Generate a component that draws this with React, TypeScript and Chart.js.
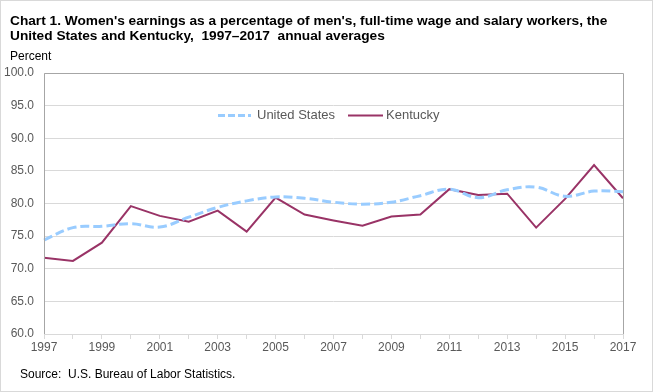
import React, { useEffect, useRef } from "react";
import { Chart, registerables } from "chart.js";

Chart.register(...registerables);

const years = [
  "1997", "1998", "1999", "2000", "2001", "2002", "2003", "2004", "2005", "2006", "2007",
  "2008", "2009", "2010", "2011", "2012", "2013", "2014", "2015", "2016", "2017",
];
const unitedStates = [
  74.4, 76.3, 76.5, 76.9, 76.4, 77.9, 79.4, 80.4, 81.0, 80.8, 80.2,
  79.9, 80.2, 81.2, 82.2, 80.9, 82.1, 82.5, 81.1, 81.9, 81.8,
];
const kentucky = [
  71.7, 71.2, 74.0, 79.6, 78.1, 77.2, 78.9, 75.7, 80.9, 78.3, 77.4,
  76.6, 78.0, 78.3, 82.2, 81.3, 81.5, 76.3, 80.7, 85.9, 80.8,
];
const yMin = 60;
const yMax = 100;
const yStep = 5;

const FONT = "'Liberation Sans', Arial, sans-serif";
const US_COLOR = "#99ccff";
const KY_COLOR = "#993366";
const TEXT = "#595959";

const frameAndLegend = {
  id: "frameAndLegend",
  afterDraw(chart: any) {
    const { ctx, chartArea } = chart;
    const { left, top, right, bottom } = chartArea;
    ctx.save();
    ctx.strokeStyle = "#a6a6a6";
    ctx.lineWidth = 1;
    ctx.beginPath();
    ctx.moveTo(Math.round(left) + 0.5, Math.round(bottom));
    ctx.lineTo(Math.round(left) + 0.5, Math.round(top) + 0.5);
    ctx.lineTo(Math.round(right) + 0.5, Math.round(top) + 0.5);
    ctx.lineTo(Math.round(right) + 0.5, Math.round(bottom));
    ctx.stroke();

    const ly = 115.5;
    ctx.font = `13px ${FONT}`;
    ctx.textBaseline = "middle";
    ctx.fillStyle = TEXT;
    ctx.strokeStyle = US_COLOR;
    ctx.lineWidth = 3;
    ctx.setLineDash([7, 3]);
    ctx.beginPath();
    ctx.moveTo(218, ly);
    ctx.lineTo(251, ly);
    ctx.stroke();
    ctx.setLineDash([]);
    ctx.fillText(chart.data.datasets[0].label, 257, ly);
    ctx.strokeStyle = KY_COLOR;
    ctx.lineWidth = 2;
    ctx.beginPath();
    ctx.moveTo(348, ly);
    ctx.lineTo(383, ly);
    ctx.stroke();
    ctx.fillText(chart.data.datasets[1].label, 386, ly);
    ctx.restore();
  },
};

export default function App() {
  const ref = useRef<HTMLCanvasElement>(null);

  useEffect(() => {
    document.body.style.margin = "0";
    const canvas = ref.current!;
    const chart = new Chart(canvas, {
      type: "line",
      data: {
        labels: years,
        datasets: [
          {
            label: "United States",
            data: unitedStates,
            borderColor: US_COLOR,
            borderWidth: 3,
            borderDash: [9, 4],
            tension: 0.4,
            pointRadius: 0,
            fill: false,
          },
          {
            label: "Kentucky",
            data: kentucky,
            borderColor: KY_COLOR,
            borderWidth: 2,
            tension: 0,
            pointRadius: 0,
            fill: false,
          },
        ],
      },
      options: {
        animation: false,
        responsive: false,
        maintainAspectRatio: false,
        layout: { padding: { left: 0, right: 30, top: 73, bottom: 0 } },
        plugins: {
          legend: { display: false },
          tooltip: { enabled: false },
        },
        scales: {
          x: {
            offset: false,
            afterFit: (s: any) => {
              s.height = 58;
            },
            border: { display: true, color: "#d9d9d9" },
            grid: {
              display: true,
              drawOnChartArea: false,
              drawTicks: true,
              tickLength: 5,
              color: "#d9d9d9",
            },
            ticks: {
              autoSkip: false,
              maxRotation: 0,
              padding: 1,
              color: TEXT,
              font: { family: FONT, size: 12 },
              callback: (_v: any, i: number) => (i % 2 === 0 ? years[i] : ""),
            },
          },
          y: {
            min: yMin,
            max: yMax,
            afterFit: (s: any) => {
              s.width = 44;
            },
            border: { display: false },
            grid: { color: "#d9d9d9", drawTicks: false },
            ticks: {
              stepSize: yStep,
              padding: 10,
              color: TEXT,
              font: { family: FONT, size: 12 },
              callback: (v: any) => Number(v).toFixed(1),
            },
          },
        },
      },
      plugins: [frameAndLegend],
    });
    return () => chart.destroy();
  }, []);

  return (
    <div
      style={{
        position: "relative",
        width: 653,
        height: 392,
        boxSizing: "border-box",
        border: "1px solid #d9d9d9",
        background: "#fff",
        fontFamily: FONT,
        overflow: "hidden",
      }}
    >
      <canvas
        ref={ref}
        width={653}
        height={392}
        style={{ position: "absolute", left: -1, top: -1, width: 653, height: 392 }}
      />
      <div
        style={{
          position: "absolute",
          left: 9,
          top: 13,
          fontSize: 13.7,
          fontWeight: "bold",
          lineHeight: "14.5px",
          color: "#000",
          whiteSpace: "pre",
        }}
      >
        {"Chart 1. Women's earnings as a percentage of men's, full-time wage and salary workers, the\nUnited States and Kentucky,  1997–2017  annual averages"}
      </div>
      <div style={{ position: "absolute", left: 9, top: 48, fontSize: 12, color: "#000" }}>Percent</div>
      <div style={{ position: "absolute", left: 19, top: 366, fontSize: 12, color: "#000", whiteSpace: "pre" }}>
        {"Source:  U.S. Bureau of Labor Statistics."}
      </div>
    </div>
  );
}
